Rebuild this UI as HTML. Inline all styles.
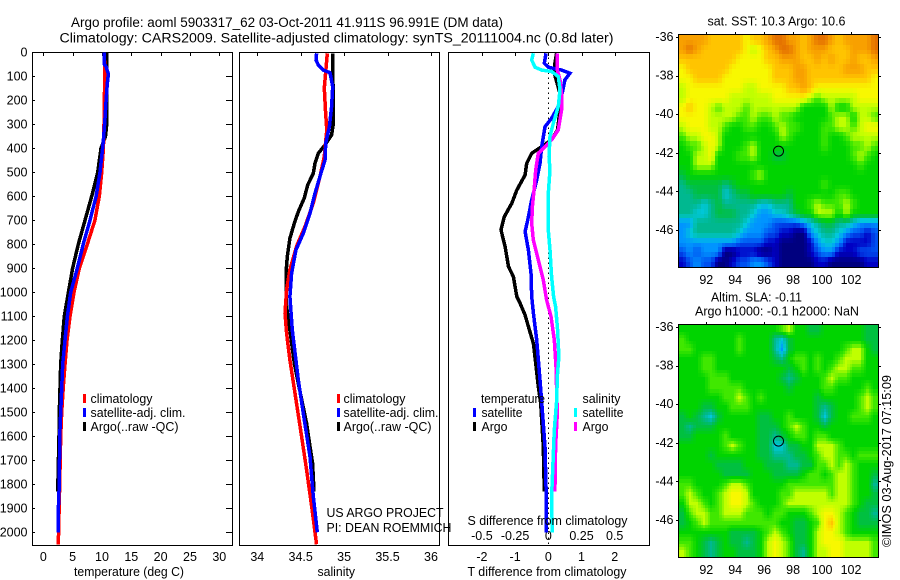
<!DOCTYPE html>
<html lang="en">
<head>
<meta charset="utf-8">
<title>Argo profile 5903317_62</title>
<style>
html,body{margin:0;padding:0;background:#fff;}
svg{display:block;}
text{font-family:"Liberation Sans",sans-serif;font-size:12.5px;fill:#000;}
.t{font-size:13px;}
.h{font-size:13.5px;}
</style>
</head>
<body>
<svg id="chart" xmlns="http://www.w3.org/2000/svg" width="900" height="580" viewBox="0 0 900 580">
<rect x="0" y="0" width="900" height="580" fill="#fff"/>
<text class="h" lengthAdjust="spacingAndGlyphs" x="71" y="27" textLength="432">Argo profile: aoml 5903317_62 03-Oct-2011 41.911S 96.991E (DM data)</text>
<text class="h" lengthAdjust="spacingAndGlyphs" x="59.5" y="42.5" textLength="554">Climatology: CARS2009. Satellite-adjusted climatology: synTS_20111004.nc (0.8d later)</text>

<g id="temp-layer"></g>
<g id="sal-layer"></g>
<g id="diff-layer"></g>
<g id="sst-layer"></g>
<g id="sla-layer"></g>

<text class="t" lengthAdjust="spacingAndGlyphs" x="74" y="576" textLength="110">temperature (deg C)</text>
<text class="t" lengthAdjust="spacingAndGlyphs" x="317.5" y="576" textLength="37.5">salinity</text>
<text class="t" lengthAdjust="spacingAndGlyphs" x="467.5" y="576" textLength="159">T difference from climatology</text>
<text class="t" lengthAdjust="spacingAndGlyphs" x="467.5" y="525" textLength="160">S difference from climatology</text>

<g>
<rect x="83" y="394" width="3" height="9" fill="#ff0000"/>
<text class="t" lengthAdjust="spacingAndGlyphs" x="90.5" y="403" textLength="62">climatology</text>
<rect x="83" y="408" width="3" height="9" fill="#0000ff"/>
<text class="t" lengthAdjust="spacingAndGlyphs" x="90.5" y="417" textLength="95">satellite-adj. clim.</text>
<rect x="83" y="422" width="3" height="9" fill="#000"/>
<text class="t" lengthAdjust="spacingAndGlyphs" x="90.5" y="431" textLength="88">Argo(..raw -QC)</text>
</g>
<g>
<rect x="337" y="394" width="3" height="9" fill="#ff0000"/>
<text class="t" lengthAdjust="spacingAndGlyphs" x="343.5" y="403" textLength="62">climatology</text>
<rect x="337" y="408" width="3" height="9" fill="#0000ff"/>
<text class="t" lengthAdjust="spacingAndGlyphs" x="343.5" y="417" textLength="95">satellite-adj. clim.</text>
<rect x="337" y="422" width="3" height="9" fill="#000"/>
<text class="t" lengthAdjust="spacingAndGlyphs" x="343.5" y="431" textLength="88">Argo(..raw -QC)</text>
</g>
<text class="t" lengthAdjust="spacingAndGlyphs" x="326.5" y="517" textLength="117">US ARGO PROJECT</text>
<text class="t" lengthAdjust="spacingAndGlyphs" x="326.5" y="532" textLength="125">PI: DEAN ROEMMICH</text>
<g>
<text class="t" lengthAdjust="spacingAndGlyphs" x="481" y="403" textLength="64">temperature</text>
<rect x="473" y="408" width="3" height="9" fill="#0000ff"/>
<text class="t" lengthAdjust="spacingAndGlyphs" x="481.5" y="417" textLength="41">satellite</text>
<rect x="473" y="422" width="3" height="9" fill="#000"/>
<text class="t" lengthAdjust="spacingAndGlyphs" x="481.5" y="431" textLength="26">Argo</text>
<text class="t" lengthAdjust="spacingAndGlyphs" x="582.5" y="403" textLength="38">salinity</text>
<rect x="574" y="408" width="3" height="9" fill="#00ffff"/>
<text class="t" lengthAdjust="spacingAndGlyphs" x="582.5" y="417" textLength="41">satellite</text>
<rect x="574" y="422" width="3" height="9" fill="#ff00ff"/>
<text class="t" lengthAdjust="spacingAndGlyphs" x="582.5" y="431" textLength="26">Argo</text>
</g>

<text class="t" lengthAdjust="spacingAndGlyphs" x="707.5" y="25.5" textLength="138">sat. SST: 10.3 Argo: 10.6</text>
<text class="t" lengthAdjust="spacingAndGlyphs" x="711" y="301.5" textLength="91">Altim. SLA: -0.11</text>
<text class="t" lengthAdjust="spacingAndGlyphs" x="695" y="315.5" textLength="164">Argo h1000: -0.1 h2000: NaN</text>
<text class="t" lengthAdjust="spacingAndGlyphs" transform="translate(891 547) rotate(-90)" x="0" y="0" textLength="172">©IMOS 03-Aug-2017 07:15:09</text>
</svg>

<script>
// ---------- profile data (depth in dbar, temperature deg C, salinity PSU) ----------
var tempArgoDepth = [0,300,350,400,500,600,700,800,900,1000,1100,1200,1300,1400,1500,1600,1830];
var tempArgoValue = [10.8,10.8,10.6,9.83,9.27,8.25,7.1,5.97,5.0,4.27,3.58,3.24,2.96,2.85,2.73,2.68,2.45];
var tempClimDepth = [0,100,200,300,400,500,600,700,800,900,1000,1100,1200,1300,1400,1500,1600,1800,2050];
var tempClimValue = [10.4,10.5,10.4,10.35,10.25,9.95,9.55,8.8,7.5,6.14,5.23,4.55,4.04,3.7,3.4,3.13,2.97,2.8,2.56];
var tempSatDepth = [0,50,60,90,130,200,300,350,400,500,600,700,800,900,1000,1100,1200,1300,1400,1500,1600,1800,1850,1900,2000];
var tempSatValue = [10.4,10.4,10.7,11.1,10.9,10.7,10.45,10.3,10.1,9.66,9.0,7.96,6.8,5.8,4.67,4.1,3.7,3.3,3.13,2.96,2.8,2.73,2.65,2.57,2.57];

var salArgoDepth = [4,296,344,386,421,463,504,553,608,664,713,775,851,921,1018,1060,1157,1296,1379,1546,1643,1713,1830];
var salArgoValue = [34.868,34.876,34.856,34.78,34.703,34.664,34.645,34.58,34.54,34.472,34.426,34.376,34.346,34.33,34.33,34.338,34.376,34.426,34.472,34.568,34.607,34.637,34.653];
var salClimDepth = [4,87,149,253,323,434,517,628,725,808,906,989,1087,1171,1282,1421,1601,1740,1893,2032,2050];
var salClimValue = [34.806,34.787,34.772,34.787,34.80,34.772,34.722,34.645,34.55,34.453,34.376,34.338,34.319,34.338,34.376,34.434,34.51,34.568,34.626,34.676,34.68];
var salSatDepth = [4,32,53,74,85,143,226,310,379,449,504,588,671,754,824,921,1018,1157,1365,1504,1685,1851,2000];
var salSatValue = [34.683,34.676,34.703,34.76,34.837,34.868,34.856,34.83,34.788,34.78,34.733,34.664,34.607,34.53,34.445,34.395,34.376,34.403,34.472,34.53,34.607,34.645,34.691];

// ---------- difference data (T in deg C, S in PSU) ----------
var diffTArgoDepth = [4,46,87,171,240,323,365,393,421,463,511,574,629,685,740,810,893,935,1018,1046,1095,1143,1213,1296,1393,1463,1643,1830];
var diffTArgoValue = [0.25,0.2,0.18,0.35,0.35,0.28,0.10,-0.2,-0.5,-0.65,-0.7,-0.95,-1.1,-1.325,-1.425,-1.3,-1.2,-1.05,-0.95,-0.85,-0.70,-0.6,-0.45,-0.38,-0.30,-0.23,-0.15,-0.12];
var diffTSatDepth = [4,46,62,74,87,115,171,226,275,310,393,463,532,615,699,747,824,921,1018,1087,1198,1365,1546,1643,1810,2000];
var diffTSatValue = [-0.07,-0.12,0,0.4,0.65,0.5,0.42,0.3,0.1,-0.1,-0.2,-0.25,-0.35,-0.5,-0.62,-0.7,-0.6,-0.52,-0.5,-0.45,-0.35,-0.25,-0.15,-0.1,-0.07,-0.07];
var diffSSatDepth = [4,32,62,74,80,101,157,226,296,351,435,490,588,740,824,935,1018,1060,1157,1268,1351,1449,1574,1740,1851,2000];
var diffSSatValue = [-0.113,-0.125,-0.1,-0.05,0.025,0.075,0.088,0.075,0.038,0.013,0.005,0.013,0,0,0.013,0.025,0.04,0.055,0.07,0.08,0.068,0.063,0.045,0.033,0.025,0.03];
var diffSArgoDepth = [4,74,115,171,240,323,365,393,421,490,560,643,713,782,865,949,1032,1101,1198,1310,1504,1643,1830];
var diffSArgoValue = [0.068,0.068,0.088,0.1,0.1,0.075,0.025,-0.025,-0.075,-0.095,-0.105,-0.12,-0.125,-0.113,-0.075,-0.038,-0.013,0.02,0.045,0.058,0.068,0.055,0.05];
var zeroLineDepth = [0,2054];

// ---------- tick labels ----------
var depthTicks = [0,100,200,300,400,500,600,700,800,900,1000,1100,1200,1300,1400,1500,1600,1700,1800,1900,2000];
var tempTicks = [0,5,10,15,20,25,30];
var salTicks = [34,34.5,35,35.5,36];
var tDiffTicks = [-2,-1,0,1,2];
var sDiffTicks = [-0.5,-0.25,0,0.25,0.5];
var lonTicks = [92,94,96,98,100,102];
var latTicks = [-36,-38,-40,-42,-44,-46];

// ---------- map data: colour-level per cell, rows north to south ----------
var lonStart = 90.13;
var lonEnd = 103.87;
var latStart = -35.9;
var latEnd = -47.9;
var argoLon = 96.991;
var argoLat = -41.911;
var levelColors = [[0,0,127],[0,0,196],[0,80,240],[0,148,255],[0,200,220],[0,184,144],[0,192,64],[0,212,0],[64,232,0],[192,255,0],[248,248,0],[255,196,0],[248,160,0],[228,112,0]];

var sstLevels = [
[12,12,12,12,11,11,11,11,11,10,11,11,12,13,13,12,12,11,12,13,13,12,11,12,12,12,12,13],
[12,13,12,11,11,11,11,11,11,10,9,10,11,12,13,13,12,11,12,12,12,11,11,11,12,12,12,13],
[11,11,11,11,11,11,11,11,10,10,10,10,11,11,12,12,12,11,11,12,11,12,11,11,12,11,11,12],
[10,11,11,11,11,11,11,10,10,10,10,10,10,11,11,11,12,12,11,11,11,11,11,12,12,12,11,11],
[10,10,11,11,11,11,10,10,10,10,10,10,10,11,11,11,12,12,11,11,11,11,11,11,11,11,11,10],
[9,10,10,10,10,10,10,10,10,9,9,10,10,10,10,11,11,12,11,10,10,10,10,10,10,10,10,10],
[9,10,10,10,10,10,10,9,9,9,9,9,9,10,10,10,10,10,9,8,9,9,9,9,9,10,10,10],
[10,11,10,10,9,8,9,9,9,8,9,9,9,9,9,9,9,7,7,7,7,9,7,7,9,9,9,9],
[10,10,10,10,9,9,9,9,8,8,9,8,8,9,8,8,7,7,7,7,7,8,9,9,7,9,9,8],
[9,10,10,10,9,9,8,7,7,8,8,7,7,8,9,8,8,7,7,7,8,8,9,9,8,9,10,10],
[8,9,9,10,10,9,7,7,7,7,7,7,7,7,9,8,7,7,7,7,8,7,7,8,9,9,9,9],
[7,8,8,9,10,9,7,7,7,8,9,7,7,7,7,7,7,7,7,7,8,7,7,7,8,8,9,8],
[7,7,9,9,10,7,7,7,8,8,9,7,7,6,6,7,7,7,7,7,7,7,7,7,8,9,8,7],
[7,7,9,9,9,7,7,7,7,7,7,7,7,7,7,7,7,7,7,7,7,7,7,7,7,8,7,7],
[6,7,7,7,7,7,7,7,7,7,8,9,7,7,7,7,7,7,7,7,7,7,7,7,7,7,7,7],
[5,6,6,6,6,6,5,6,7,7,7,7,7,7,7,7,7,7,7,7,8,7,7,7,7,7,7,7],
[5,5,6,6,6,6,4,5,6,6,7,7,7,7,7,6,7,7,7,7,7,7,8,8,7,7,7,7],
[5,5,5,4,5,6,5,5,5,5,5,4,4,5,5,5,7,7,8,9,8,8,8,9,8,7,7,7],
[5,5,4,4,5,6,6,6,5,5,4,3,3,4,4,5,6,7,7,9,9,9,7,9,7,7,7,7],
[3,3,5,5,5,5,5,5,5,4,3,3,3,2,2,2,2,3,4,5,6,6,5,5,4,3,3,3],
[3,4,5,5,5,5,5,5,4,3,3,3,2,2,1,1,0,0,3,4,5,5,4,3,2,2,1,2],
[3,3,3,3,3,3,3,3,2,2,2,2,1,1,0,0,0,0,1,3,4,4,3,1,1,1,1,2],
[2,3,2,3,3,3,0,0,1,1,1,0,0,1,0,0,0,0,1,2,3,3,1,1,1,2,2,2],
[1,2,3,2,2,0,0,1,2,2,3,3,2,1,0,0,0,0,0,1,1,0,0,0,0,0,1,1]
];

var slaLevels = [
[7,7,7,7,7,7,7,7,7,7,7,7,7,7,8,9,7,7,6,6,7,7,7,7,7,7,6,6],
[8,7,7,7,7,7,7,7,8,7,7,7,7,5,4,6,7,7,7,7,7,7,7,7,7,7,6,6],
[8,8,7,7,7,7,7,7,8,7,7,7,7,5,3,6,7,7,7,7,7,7,7,8,9,9,7,6],
[7,7,7,8,8,7,7,7,7,7,7,7,7,6,5,7,8,8,7,8,7,7,8,9,9,9,7,7],
[7,7,7,8,8,7,7,7,7,7,7,7,7,7,7,6,7,8,7,8,7,8,9,9,8,8,7,7],
[7,7,7,7,8,8,8,7,7,7,7,7,7,7,6,5,6,7,7,7,8,9,8,8,7,7,7,7],
[7,7,7,7,8,8,8,8,8,7,7,7,7,7,7,6,7,7,7,7,8,8,7,7,7,7,8,7],
[7,7,7,7,7,7,8,8,9,8,7,8,7,7,7,7,7,7,7,6,7,7,7,7,7,8,9,8],
[7,7,7,6,6,7,7,8,8,8,7,7,7,7,7,7,7,7,7,6,5,6,7,7,7,8,9,8],
[6,7,6,5,4,6,7,7,7,7,7,6,6,7,7,8,7,7,7,6,4,6,7,7,8,8,8,7],
[6,5,6,6,6,7,7,7,7,7,7,6,6,6,7,8,9,8,7,7,6,7,7,7,7,7,7,7],
[6,6,7,7,7,7,8,7,7,7,7,6,6,5,6,7,8,8,7,8,8,7,7,7,7,7,7,7],
[7,7,7,7,7,7,8,9,8,7,7,6,6,4,4,6,6,7,7,9,9,9,8,7,7,7,7,7],
[7,7,7,7,6,7,7,7,7,7,7,6,6,5,5,5,6,6,7,8,9,9,8,8,7,8,8,8],
[7,7,7,7,7,6,6,6,6,7,7,7,6,6,6,5,5,6,6,8,8,9,8,9,8,7,7,7],
[7,7,7,7,7,7,6,6,6,6,7,7,7,6,6,6,6,7,8,8,7,8,9,9,8,7,7,6],
[8,8,7,7,7,7,8,9,9,8,7,7,7,7,7,8,8,8,8,8,8,8,9,9,8,7,7,5],
[8,9,8,7,7,8,9,10,10,9,7,7,7,7,8,8,9,9,9,9,9,8,9,9,8,7,7,6],
[7,9,9,8,7,8,9,10,10,9,8,7,7,7,8,9,9,9,9,9,9,9,9,9,8,7,6,6],
[6,8,9,9,8,8,9,9,9,8,8,8,7,8,8,7,7,7,8,9,10,10,9,8,7,6,6,5],
[6,7,8,9,8,8,8,8,8,8,8,8,8,8,7,7,6,6,7,8,10,11,9,8,7,6,6,6],
[7,7,7,7,7,7,7,6,6,6,6,7,8,9,8,7,6,6,7,9,10,10,9,8,7,7,7,7],
[8,8,7,6,5,6,7,6,6,5,6,7,9,10,9,8,6,6,7,9,10,10,10,9,9,9,9,8],
[9,8,7,6,5,6,7,7,6,6,6,7,9,10,9,8,6,5,7,9,9,10,10,9,9,9,9,8]
];

// ---------- drawing ----------
var SVGNS = "http://www.w3.org/2000/svg";
function mk(parent, tag, attrs) {
  var el = document.createElementNS(SVGNS, tag);
  for (var k in attrs) { el.setAttribute(k, attrs[k]); }
  parent.appendChild(el);
  return el;
}
function yDepth(d) { return 52.3 + d * 0.24; }
function xTemp(t) { return 43.3 + t * 5.867; }
function xSal(s) { return 257.3 + (s - 34) * 86.83; }
function xDiffT(t) { return 548.3 + t * 33.2; }
function xDiffS(s) { return 548.3 + s * 132.8; }
function xLon(lon) { return 706.3 + (lon - 92) * 14.47; }
function yLatSst(lat) { return 37 + (-36 - lat) * 19.3; }
function yLatSla(lat) { return 327 + (-36 - lat) * 19.3; }
var PLOT_TOP = 52;
var PLOT_BOTTOM = 545;

function drawFrame(layer, x0, x1) {
  var r = mk(layer, "rect", {x: x0 + 0.5, y: PLOT_TOP + 0.5, width: x1 - x0, height: PLOT_BOTTOM - PLOT_TOP, fill: "none", stroke: "#000", "stroke-width": 1, "shape-rendering": "crispEdges"});
  
  
}
function drawProfile(layer, depths, values, xFn, color, name, width, dash) {
  var pts = [];
  for (var i = 0; i < depths.length; i++) {
    pts.push(xFn(values[i]).toFixed(1) + "," + yDepth(depths[i]).toFixed(1));
  }
  var p = mk(layer, "polyline", {points: pts.join(" "), fill: "none", stroke: color, "stroke-width": width || 3.5, "shape-rendering": "crispEdges", "stroke-linejoin": "miter"});
  if (dash) { p.setAttribute("stroke-dasharray", dash); }
  
  
}
function drawTopTicks(layer, ticks, xFn, y0, len) {
  ticks.forEach(function (t) {
    var x = Math.round(xFn(t)) + 0.5;
    var l = mk(layer, "line", {x1: x, x2: x, y1: y0, y2: y0 + len, stroke: "#000", "stroke-width": 1, "shape-rendering": "crispEdges"});
    
    
  });
}
function drawXLabels(layer, ticks, xFn, baseline) {
  ticks.forEach(function (t) {
    var lab = mk(layer, "text", {x: xFn(t).toFixed(1), y: baseline, "text-anchor": "middle"});
    lab.textContent = String(t);
    
    
  });
}

// temperature panel
var tempLayer = document.getElementById("temp-layer");
drawFrame(tempLayer, 32, 232);
drawTopTicks(tempLayer, tempTicks, xTemp, 52, 4);
drawXLabels(tempLayer, tempTicks, xTemp, 561);
depthTicks.forEach(function (d) {
  var y = Math.round(yDepth(d)) + 0.5;
  var a = mk(tempLayer, "line", {x1: 32, x2: 35, y1: y, y2: y, stroke: "#000", "shape-rendering": "crispEdges"});
  
  
  var b = mk(tempLayer, "line", {x1: 226, x2: 232, y1: y, y2: y, stroke: "#000", "shape-rendering": "crispEdges"});
  
  
  var lab = mk(tempLayer, "text", {x: 27.5, y: yDepth(d) + 4, "text-anchor": "end"});
  lab.textContent = String(d);
  
  
});
drawProfile(tempLayer, tempArgoDepth, tempArgoValue, xTemp, "#000000", "temperature-argo-line");
drawProfile(tempLayer, tempClimDepth, tempClimValue, xTemp, "#ff0000", "temperature-climatology-line");
drawProfile(tempLayer, tempSatDepth, tempSatValue, xTemp, "#0000ff", "temperature-satellite-line");

// salinity panel
var salLayer = document.getElementById("sal-layer");
drawFrame(salLayer, 239, 439);
drawTopTicks(salLayer, salTicks, xSal, 52, 4);
drawXLabels(salLayer, salTicks, xSal, 561);
drawProfile(salLayer, salArgoDepth, salArgoValue, xSal, "#000000", "salinity-argo-line");
drawProfile(salLayer, salClimDepth, salClimValue, xSal, "#ff0000", "salinity-climatology-line");
drawProfile(salLayer, salSatDepth, salSatValue, xSal, "#0000ff", "salinity-satellite-line");

// difference panel
var diffLayer = document.getElementById("diff-layer");
drawFrame(diffLayer, 448, 649);
drawTopTicks(diffLayer, tDiffTicks, xDiffT, 52, 4);
drawXLabels(diffLayer, tDiffTicks, xDiffT, 561);
drawXLabels(diffLayer, sDiffTicks, xDiffS, 540);
drawProfile(diffLayer, zeroLineDepth, [0, 0], xDiffT, "#000000", "zero-reference-line", 1, "1.5 3.5");
drawProfile(diffLayer, diffTArgoDepth, diffTArgoValue, xDiffT, "#000000", "t-difference-argo-line");
drawProfile(diffLayer, diffTSatDepth, diffTSatValue, xDiffT, "#0000ff", "t-difference-satellite-line");
drawProfile(diffLayer, diffSArgoDepth, diffSArgoValue, xDiffS, "#ff00ff", "s-difference-argo-line");
drawProfile(diffLayer, diffSSatDepth, diffSSatValue, xDiffS, "#00ffff", "s-difference-satellite-line");

// maps: each grid cell is drawn as sub x sub shaded blocks (bilinear between cell centres)
function levelColor(v) {
  var lo = Math.max(0, Math.min(levelColors.length - 2, Math.floor(v)));
  var f = Math.max(0, Math.min(1, v - lo));
  var a = levelColors[lo];
  var b = levelColors[lo + 1];
  return "rgb(" + Math.round(a[0] + (b[0] - a[0]) * f) + "," + Math.round(a[1] + (b[1] - a[1]) * f) + "," + Math.round(a[2] + (b[2] - a[2]) * f) + ")";
}
function sampleGrid(grid, fr, fc) {
  var rows = grid.length;
  var cols = grid[0].length;
  var r = Math.max(0, Math.min(rows - 1, fr));
  var c = Math.max(0, Math.min(cols - 1, fc));
  var r0 = Math.floor(r);
  var c0 = Math.floor(c);
  var r1 = Math.min(rows - 1, r0 + 1);
  var c1 = Math.min(cols - 1, c0 + 1);
  var fy = r - r0;
  var fx = c - c0;
  return (grid[r0][c0] * (1 - fx) + grid[r0][c1] * fx) * (1 - fy) + (grid[r1][c0] * (1 - fx) + grid[r1][c1] * fx) * fy;
}
function drawMap(layer, grid, yLat, name, labelBaseline, sub) {
  var rows = grid.length;
  var cols = grid[0].length;
  var dLon = (lonEnd - lonStart) / (cols * sub);
  var dLat = (latEnd - latStart) / (rows * sub);
  for (var r = 0; r < rows * sub; r++) {
    for (var c = 0; c < cols * sub; c++) {
      var x0 = Math.round(xLon(lonStart + c * dLon));
      var x1 = Math.round(xLon(lonStart + (c + 1) * dLon));
      var y0 = Math.round(yLat(latStart + r * dLat));
      var y1 = Math.round(yLat(latStart + (r + 1) * dLat));
      var v = sampleGrid(grid, (r + 0.5) / sub - 0.5, (c + 0.5) / sub - 0.5);
      var cell = mk(layer, "rect", {x: x0, y: y0, width: x1 - x0, height: y1 - y0, fill: levelColor(v), "shape-rendering": "crispEdges"});
      
      
    }
  }
  var xa = Math.round(xLon(lonStart));
  var xb = Math.round(xLon(lonEnd));
  var ya = Math.round(yLat(latStart));
  var yb = Math.round(yLat(latEnd));
  var frame = mk(layer, "rect", {x: xa - 0.5, y: ya - 0.5, width: xb - xa + 1, height: yb - ya + 1, fill: "none", stroke: "#000", "stroke-width": 1, "shape-rendering": "crispEdges"});
  
  
  lonTicks.forEach(function (lon) {
    var x = Math.round(xLon(lon)) + 0.5;
    var t = mk(layer, "line", {x1: x, x2: x, y1: ya - 3, y2: ya, stroke: "#000", "shape-rendering": "crispEdges"});
    
    
  });
  drawXLabels(layer, lonTicks, xLon, labelBaseline);
  latTicks.forEach(function (lat) {
    var y = Math.round(yLat(lat)) + 0.5;
    var t1 = mk(layer, "line", {x1: xa - 3, x2: xa, y1: y, y2: y, stroke: "#000", "shape-rendering": "crispEdges"});
    
    
    var t2 = mk(layer, "line", {x1: xb, x2: xb + 3, y1: y, y2: y, stroke: "#000", "shape-rendering": "crispEdges"});
    
    
    var lab = mk(layer, "text", {x: 673.5, y: yLat(lat) + 4, "text-anchor": "end"});
    lab.textContent = String(lat);
    
    
  });
  var marker = mk(layer, "circle", {cx: xLon(argoLon), cy: yLat(argoLat), r: 5, fill: "none", stroke: "#000", "stroke-width": 1});
  
  
}
drawMap(document.getElementById("sst-layer"), sstLevels, yLatSst, "sst-map", 284, 2);
drawMap(document.getElementById("sla-layer"), slaLevels, yLatSla, "sla-map", 574, 3);
</script>
</body>
</html>
